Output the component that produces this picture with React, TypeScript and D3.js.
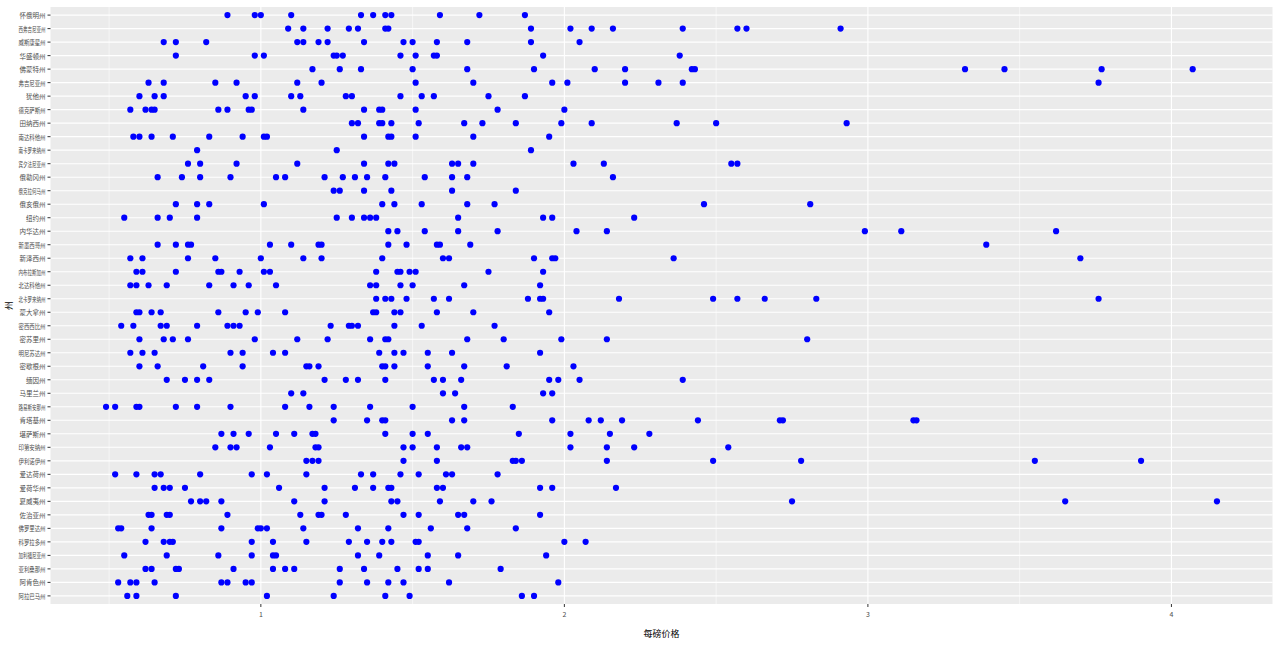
import React from 'react';
import * as d3 from 'd3';

// levels in ggplot order (bottom -> top)
const states = [
  '阿拉巴马州', '阿肯色州', '亚利桑那州', '加利福尼亚州', '科罗拉多州', '佛罗里达州',
  '佐治亚州', '夏威夷州', '爱荷华州', '爱达荷州', '伊利诺伊州', '印第安纳州',
  '堪萨斯州', '肯塔基州', '路易斯安那州', '马里兰州', '缅因州', '密歇根州',
  '明尼苏达州', '密苏里州', '密西西比州', '蒙大拿州', '北卡罗来纳州', '北达科他州',
  '内布拉斯加州', '新泽西州', '新墨西哥州', '内华达州', '纽约州', '俄亥俄州',
  '俄克拉何马州', '俄勒冈州', '宾夕法尼亚州', '南卡罗来纳州', '南达科他州', '田纳西州',
  '德克萨斯州', '犹他州', '弗吉尼亚州', '佛蒙特州', '华盛顿州', '威斯康星州',
  '西弗吉尼亚州', '怀俄明州',
];

// price per lb, one list per state (same order as states)
const pricePerLb: number[][] = [
  [0.56, 0.59, 0.72, 1.02, 1.24, 1.41, 1.49, 1.86, 1.9],
  [0.53, 0.57, 0.59, 0.65, 0.87, 0.89, 0.95, 0.97, 1.26, 1.35, 1.42, 1.47, 1.62, 1.98],
  [0.62, 0.64, 0.72, 0.73, 0.91, 1.04, 1.08, 1.11, 1.26, 1.34, 1.45, 1.52, 1.55, 1.79],
  [0.55, 0.69, 0.86, 0.97, 1.04, 1.05, 1.32, 1.39, 1.55, 1.65, 1.94],
  [0.62, 0.68, 0.7, 0.71, 0.97, 1.04, 1.15, 1.29, 1.35, 1.4, 1.43, 1.51, 1.52, 2.0, 2.07],
  [0.53, 0.54, 0.64, 0.87, 0.99, 1.0, 1.02, 1.14, 1.32, 1.42, 1.56, 1.68, 1.84],
  [0.63, 0.64, 0.69, 0.7, 0.89, 1.13, 1.19, 1.2, 1.28, 1.47, 1.52, 1.65, 1.67, 1.92],
  [0.77, 0.8, 0.82, 0.87, 1.11, 1.21, 1.43, 1.45, 1.59, 1.7, 1.76, 2.75, 3.65, 4.15],
  [0.65, 0.68, 0.7, 0.75, 1.06, 1.21, 1.31, 1.37, 1.42, 1.43, 1.58, 1.6, 1.92, 1.96, 2.17],
  [0.52, 0.59, 0.65, 0.67, 0.8, 0.97, 1.02, 1.15, 1.33, 1.37, 1.46, 1.52, 1.61, 1.63, 1.78],
  [1.15, 1.17, 1.19, 1.47, 1.58, 1.83, 1.84, 1.86, 2.14, 2.49, 2.78, 3.55, 3.9],
  [0.85, 0.9, 0.92, 1.03, 1.18, 1.19, 1.47, 1.5, 1.58, 1.66, 1.68, 2.02, 2.14, 2.23, 2.54],
  [0.87, 0.91, 0.96, 1.05, 1.11, 1.17, 1.18, 1.41, 1.5, 1.55, 1.85, 2.02, 2.15, 2.28],
  [1.24, 1.35, 1.4, 1.41, 1.63, 1.67, 1.96, 2.08, 2.12, 2.19, 2.44, 2.71, 2.72, 3.15, 3.16],
  [0.49, 0.52, 0.59, 0.6, 0.72, 0.79, 0.9, 1.08, 1.16, 1.24, 1.36, 1.5, 1.67, 1.83],
  [1.1, 1.14, 1.6, 1.64, 1.93, 1.96],
  [0.69, 0.75, 0.79, 0.83, 1.21, 1.28, 1.32, 1.41, 1.57, 1.6, 1.66, 1.95, 1.98, 2.05, 2.39],
  [0.6, 0.66, 0.81, 0.94, 1.15, 1.16, 1.19, 1.4, 1.41, 1.44, 1.55, 1.67, 1.81, 2.03],
  [0.57, 0.61, 0.65, 0.9, 0.94, 1.04, 1.08, 1.39, 1.44, 1.47, 1.55, 1.63, 1.92],
  [0.6, 0.68, 0.71, 0.76, 0.98, 1.12, 1.22, 1.36, 1.41, 1.42, 1.68, 1.8, 1.99, 2.14, 2.8],
  [0.54, 0.58, 0.67, 0.69, 0.79, 0.89, 0.91, 0.93, 1.23, 1.29, 1.3, 1.32, 1.44, 1.53, 1.77],
  [0.59, 0.6, 0.64, 0.67, 0.86, 0.95, 0.99, 1.08, 1.37, 1.38, 1.44, 1.46, 1.58, 1.7, 1.95],
  [1.38, 1.41, 1.43, 1.48, 1.57, 1.62, 1.88, 1.92, 1.93, 2.18, 2.49, 2.57, 2.66, 2.83, 3.76],
  [0.57, 0.59, 0.63, 0.69, 0.83, 0.91, 0.96, 1.05, 1.36, 1.38, 1.46, 1.5, 1.67, 1.92],
  [0.59, 0.61, 0.72, 0.86, 0.87, 0.93, 1.01, 1.03, 1.38, 1.45, 1.46, 1.49, 1.51, 1.75, 1.93],
  [0.57, 0.61, 0.76, 0.85, 1.0, 1.14, 1.2, 1.4, 1.6, 1.62, 1.9, 1.96, 1.97, 2.36, 3.7],
  [0.66, 0.72, 0.76, 0.77, 1.03, 1.1, 1.19, 1.2, 1.42, 1.48, 1.58, 1.59, 1.69, 3.39],
  [1.42, 1.45, 1.54, 1.65, 1.78, 2.04, 2.14, 2.99, 3.11, 3.62],
  [0.55, 0.66, 0.7, 0.79, 1.25, 1.3, 1.34, 1.36, 1.38, 1.65, 1.93, 1.96, 2.23],
  [0.72, 0.79, 0.83, 1.01, 1.4, 1.44, 1.53, 1.68, 1.77, 2.46, 2.81],
  [1.24, 1.26, 1.34, 1.43, 1.63, 1.84],
  [0.66, 0.74, 0.8, 0.9, 1.05, 1.08, 1.21, 1.27, 1.31, 1.35, 1.41, 1.54, 1.63, 1.68, 2.16],
  [0.76, 0.8, 0.92, 1.12, 1.34, 1.42, 1.44, 1.63, 1.65, 1.7, 2.03, 2.13, 2.55, 2.57],
  [0.79, 1.25, 1.89],
  [0.58, 0.6, 0.64, 0.71, 0.83, 0.94, 1.01, 1.02, 1.34, 1.42, 1.43, 1.51, 1.7, 1.95],
  [1.3, 1.32, 1.39, 1.4, 1.43, 1.52, 1.67, 1.73, 1.84, 1.99, 2.09, 2.37, 2.5, 2.93],
  [0.57, 0.62, 0.64, 0.65, 0.86, 0.89, 0.96, 0.97, 1.14, 1.34, 1.39, 1.4, 1.51, 1.78, 2.0],
  [0.6, 0.65, 0.68, 0.95, 0.98, 1.1, 1.13, 1.28, 1.3, 1.46, 1.53, 1.57, 1.75, 1.87],
  [0.63, 0.68, 0.85, 0.92, 1.12, 1.2, 1.51, 1.7, 1.96, 2.01, 2.2, 2.31, 2.39, 3.76],
  [1.17, 1.26, 1.33, 1.5, 1.68, 1.9, 2.1, 2.2, 2.42, 2.43, 3.32, 3.45, 3.77, 4.07],
  [0.72, 0.98, 1.01, 1.24, 1.25, 1.27, 1.46, 1.51, 1.57, 1.58, 1.93, 2.38],
  [0.68, 0.72, 0.82, 1.12, 1.14, 1.19, 1.22, 1.34, 1.47, 1.5, 1.58, 1.68, 1.89, 2.05],
  [1.09, 1.14, 1.22, 1.29, 1.32, 1.41, 1.42, 1.89, 2.02, 2.09, 2.16, 2.39, 2.57, 2.6, 2.91],
  [0.89, 0.98, 1.0, 1.1, 1.33, 1.37, 1.41, 1.43, 1.59, 1.72, 1.87],
];

const xTicks = [1, 2, 3, 4];
const xMinor = [0.5, 1.5, 2.5, 3.5];
const xTitle = '每磅价格';
const yTitle = '州';

const W = 1280;
const H = 649;
const panel = { left: 50.5, right: 1272.5, top: 7, bottom: 604 };
const font = '"Noto Sans CJK SC", "Noto Sans", sans-serif';
const labelSize = 6.5;
const maxLabelWidth = 27;

export default function App() {
  const points = states.flatMap((s, i) => pricePerLb[i].map(v => ({ state: s, price: v })));

  const [lo, hi] = d3.extent(points, d => d.price) as [number, number];
  const pad = (hi - lo) * 0.05;
  const x = d3.scaleLinear().domain([lo - pad, hi + pad]).range([panel.left, panel.right]);
  const y = d3
    .scalePoint<string>()
    .domain(states)
    .range([panel.bottom, panel.top])
    .padding(0.6);

  return (
    <svg
      width={W}
      height={H}
      style={{ position: 'absolute', left: 0, top: 0, background: '#fff' }}
    >
      <rect
        x={panel.left}
        y={panel.top}
        width={panel.right - panel.left}
        height={panel.bottom - panel.top}
        fill="#EBEBEB"
      />
      {xMinor.map(t => (
        <line key={`m${t}`} x1={x(t)} x2={x(t)} y1={panel.top} y2={panel.bottom} stroke="#fff" strokeWidth={0.55} />
      ))}
      {xTicks.map(t => (
        <line key={`g${t}`} x1={x(t)} x2={x(t)} y1={panel.top} y2={panel.bottom} stroke="#fff" strokeWidth={1.1} />
      ))}
      {states.map(s => (
        <line key={`h${s}`} x1={panel.left} x2={panel.right} y1={y(s)} y2={y(s)} stroke="#fff" strokeWidth={1.1} />
      ))}

      {points.map((d, i) => (
        <circle key={i} cx={x(d.price)} cy={y(d.state)} r={3.1} fill="#0000FF" />
      ))}

      {/* y axis */}
      {states.map(s => {
        const natural = s.length * labelSize;
        const squeeze = natural > maxLabelWidth;
        return (
          <g key={`y${s}`}>
            <line x1={panel.left - 3} x2={panel.left} y1={y(s)} y2={y(s)} stroke="#333" strokeWidth={1} />
            <text
              x={panel.left - 5}
              y={y(s)}
              textAnchor="end"
              dominantBaseline="central"
              fontSize={labelSize}
              fill="#4D4D4D"
              fontFamily={font}
              textLength={squeeze ? maxLabelWidth : undefined}
              lengthAdjust={squeeze ? 'spacingAndGlyphs' : undefined}
            >
              {s}
            </text>
          </g>
        );
      })}

      {/* x axis */}
      {xTicks.map(t => (
        <g key={`x${t}`}>
          <line x1={x(t)} x2={x(t)} y1={panel.bottom} y2={panel.bottom + 3} stroke="#333" strokeWidth={1} />
          <text x={x(t)} y={panel.bottom + 13} textAnchor="middle" fontSize={7} fill="#4D4D4D" fontFamily={font}>
            {t}
          </text>
        </g>
      ))}

      <text
        x={(panel.left + panel.right) / 2}
        y={637}
        textAnchor="middle"
        fontSize={9}
        fill="#000"
        fontFamily={font}
      >
        {xTitle}
      </text>
      <text
        transform={`translate(12, ${(panel.top + panel.bottom) / 2}) rotate(-90)`}
        textAnchor="middle"
        fontSize={9}
        fill="#000"
        fontFamily={font}
      >
        {yTitle}
      </text>
    </svg>
  );
}
